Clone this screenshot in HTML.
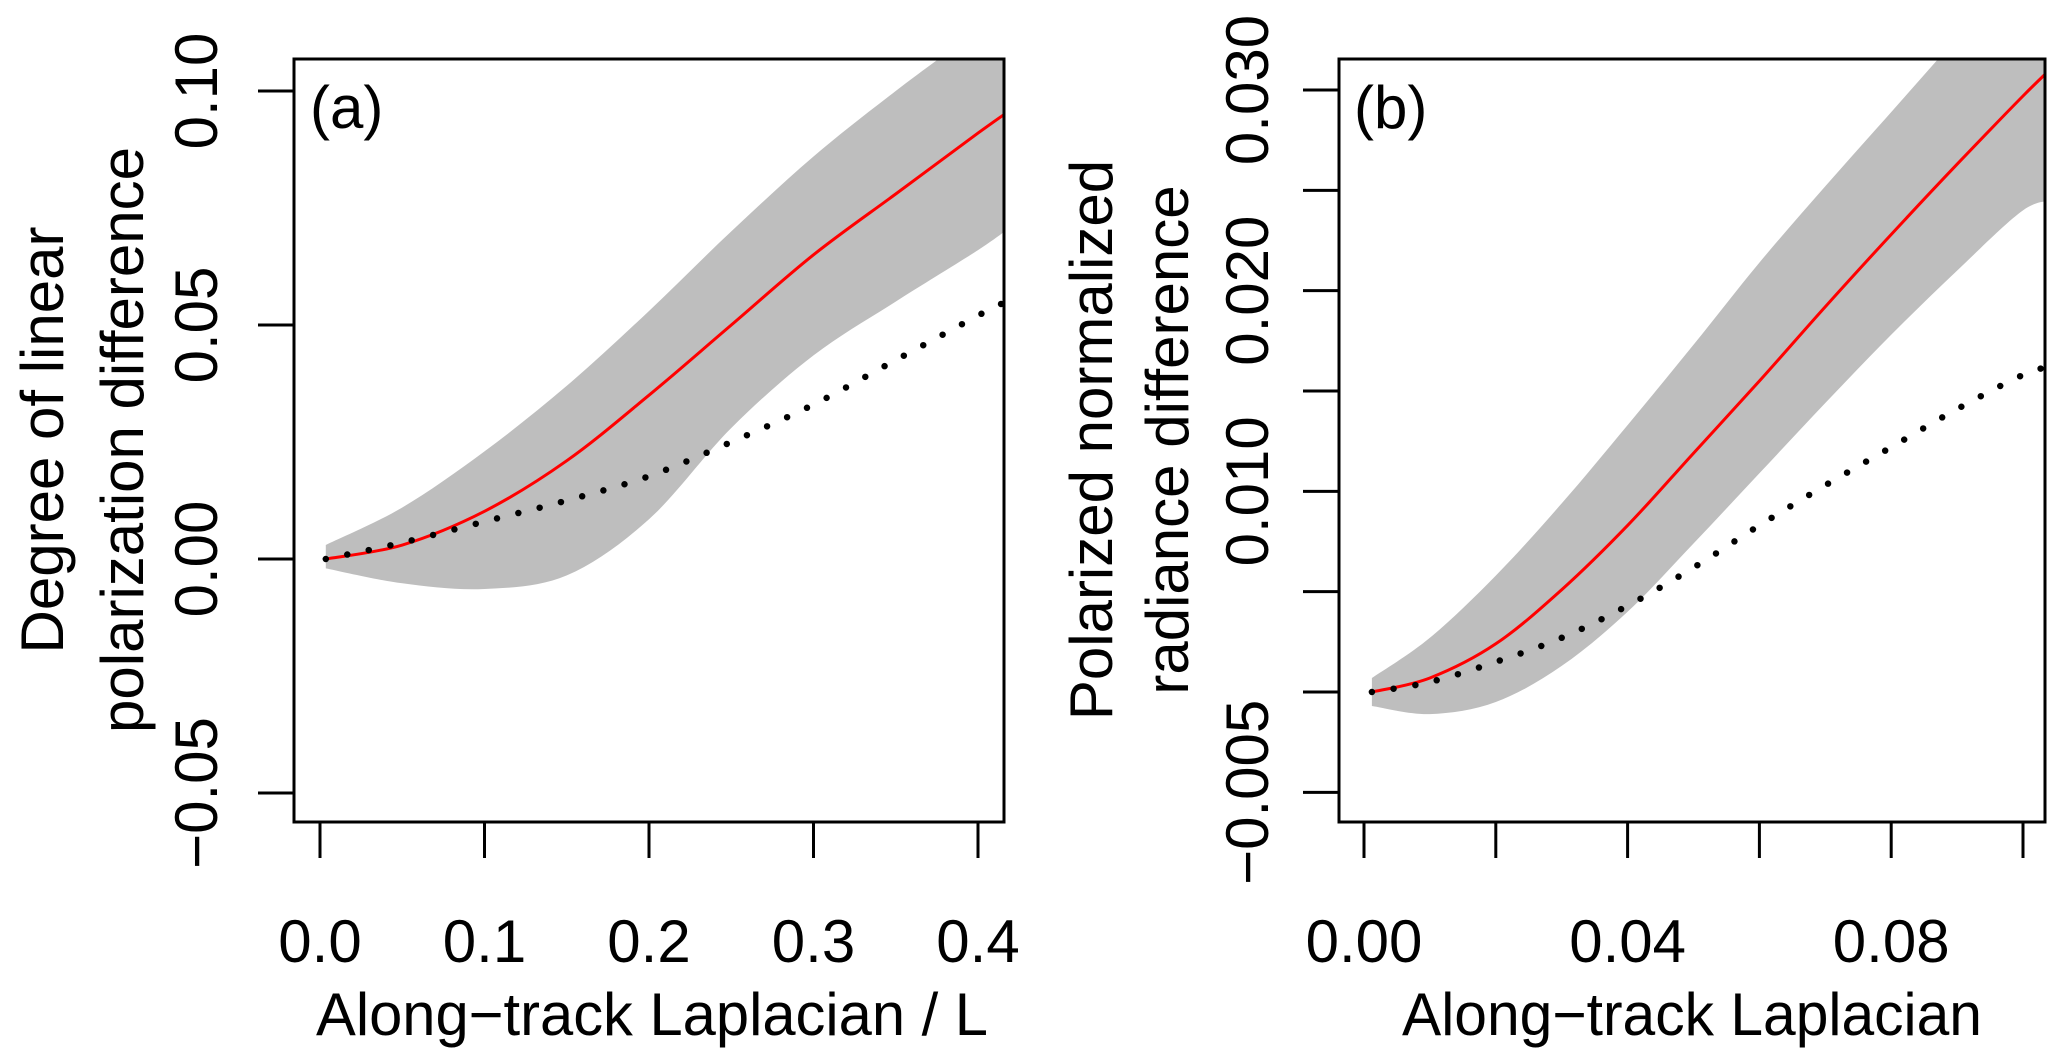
<!DOCTYPE html>
<html><head><meta charset="utf-8"><style>
html,body{margin:0;padding:0;background:#fff}
svg text{font-family:"Liberation Sans",Arial,sans-serif;fill:#000}
</style></head><body>
<svg id="chart" width="2067" height="1058" viewBox="0 0 2067 1058" xmlns="http://www.w3.org/2000/svg">
<defs>
<clipPath id="clipA"><rect x="294" y="59" width="710" height="763"/></clipPath>
<clipPath id="clipB"><rect x="1339" y="59" width="706" height="763"/></clipPath>
</defs>
<g id="panelA"></g>
<g id="panelB"></g>
</svg>
<script>
// Panel (a) data
const aX = [0.0035, 0.05, 0.1, 0.15, 0.2, 0.25, 0.3, 0.35, 0.4, 0.42];
const aRed = [0.0, 0.003, 0.0102, 0.021, 0.035, 0.050, 0.065, 0.078, 0.091, 0.096];
const aUpper = [0.003, 0.011, 0.023, 0.037, 0.053, 0.070, 0.086, 0.100, 0.113, 0.118];
const aLower = [-0.002, -0.0052, -0.0064, -0.0035, 0.0085, 0.028, 0.0435, 0.055, 0.066, 0.071];
const aDot = [0.0, 0.0035, 0.008, 0.0125, 0.0177, 0.025, 0.033, 0.0425, 0.052, 0.0555];
const aXTicks = [0.0, 0.1, 0.2, 0.3, 0.4];
const aXLabels = ["0.0", "0.1", "0.2", "0.3", "0.4"];
const aYTicks = [-0.05, 0.0, 0.05, 0.10];
const aYLabels = ["\u22120.05", "0.00", "0.05", "0.10"];
// Panel (b) data
const bX = [0.0012, 0.01, 0.02, 0.03, 0.04, 0.05, 0.06, 0.07, 0.08, 0.09, 0.10, 0.105];
const bRed = [0.0, 0.0007, 0.0024, 0.0051, 0.0083, 0.0119, 0.0155, 0.0192, 0.0228, 0.0263, 0.0297, 0.0313];
const bUpper = [0.0007, 0.0027, 0.0058, 0.0094, 0.0133, 0.0173, 0.0214, 0.0252, 0.0289, 0.0326, 0.0362, 0.038];
const bLower = [-0.0007, -0.0011, -0.0005, 0.0013, 0.0040, 0.0074, 0.0109, 0.0144, 0.0178, 0.0210, 0.0240, 0.0245];
const bDot = [0.0, 0.0005, 0.0015, 0.0027, 0.0043, 0.0062, 0.0083, 0.0103, 0.0122, 0.0141, 0.0158, 0.0163];
const bXTicks = [0.0, 0.02, 0.04, 0.06, 0.08, 0.10];
const bXLabels = ["0.00", "", "0.04", "", "0.08", ""];
const bYTicks = [-0.005, 0.0, 0.005, 0.010, 0.015, 0.020, 0.025, 0.030];
const bYLabels = ["\u22120.005", "", "", "0.010", "", "0.020", "", "0.030"];

const NS = "http://www.w3.org/2000/svg";
function mk(parent, tag, attrs, text) {
  const e = document.createElementNS(NS, tag);
  for (const k in attrs) e.setAttribute(k, attrs[k]);
  if (text !== undefined) e.textContent = text;
  parent.appendChild(e);
  return e;
}
function lin(d0, d1, r0, r1) { return v => r0 + (v - d0) * (r1 - r0) / (d1 - d0); }
function pts(xs, ys, sx, sy) { return xs.map((x, i) => [sx(x), sy(ys[i])]); }
function smooth(p, start) {
  let d = (start ? "M" : "L") + p[0][0].toFixed(1) + "," + p[0][1].toFixed(1);
  for (let i = 0; i < p.length - 1; i++) {
    const p0 = p[Math.max(0, i - 1)], p1 = p[i], p2 = p[i + 1], p3 = p[Math.min(p.length - 1, i + 2)];
    const c1 = [p1[0] + (p2[0] - p0[0]) / 6, p1[1] + (p2[1] - p0[1]) / 6];
    const c2 = [p2[0] - (p3[0] - p1[0]) / 6, p2[1] - (p3[1] - p1[1]) / 6];
    d += "C" + c1.map(v => v.toFixed(1)).join(",") + " " + c2.map(v => v.toFixed(1)).join(",") + " " + p2[0].toFixed(1) + "," + p2[1].toFixed(1);
  }
  return d;
}

function panel(g, cfg) {
  const sx = lin(cfg.xd[0], cfg.xd[1], cfg.xr[0], cfg.xr[1]);
  const sy = lin(cfg.yd[0], cfg.yd[1], cfg.yr[0], cfg.yr[1]);
  const plot = mk(g, "g", {"clip-path": "url(#" + cfg.clip + ")"});
  
  
  const up = pts(cfg.x, cfg.upper, sx, sy);
  const lo = pts(cfg.x, cfg.lower, sx, sy).reverse();
  const band = mk(plot, "path", {d: smooth(up, true) + smooth(lo, false) + "Z", fill: "#bebebe", stroke: "none"});
  
  
  const red = mk(plot, "path", {d: smooth(pts(cfg.x, cfg.red, sx, sy), true), fill: "none", stroke: "#ff0000", "stroke-width": 3});
  
  
  const dot = mk(plot, "path", {d: smooth(pts(cfg.x, cfg.dot, sx, sy), true), fill: "none", stroke: "#000", "stroke-width": 6.5, "stroke-linecap": "round", "stroke-dasharray": "0 22"});
  
  
  const box = mk(g, "rect", {x: cfg.box[0], y: cfg.box[1], width: cfg.box[2], height: cfg.box[3], fill: "none", stroke: "#000", "stroke-width": 3});
  
  
  const bottom = cfg.box[1] + cfg.box[3], left = cfg.box[0];
  const xa = mk(g, "g", {});
  
  
  cfg.xt.forEach((v, i) => {
    const t = mk(xa, "line", {x1: sx(v), x2: sx(v), y1: bottom, y2: bottom + 36, stroke: "#000", "stroke-width": 3});
    
    
    if (cfg.xl[i]) {
      const l = mk(xa, "text", {x: sx(v), y: 962, "text-anchor": "middle", "font-size": 60}, cfg.xl[i]);
      
      
    }
  });
  const ya = mk(g, "g", {});
  
  
  cfg.yt.forEach((v, i) => {
    const t = mk(ya, "line", {x1: left - 36, x2: left, y1: sy(v), y2: sy(v), stroke: "#000", "stroke-width": 3});
    
    
    if (cfg.yl[i]) {
      const l = mk(ya, "text", {x: 0, y: 0, "text-anchor": "middle", "font-size": 60, transform: "translate(" + cfg.ylx + "," + sy(v) + ") rotate(-90)"}, cfg.yl[i]);
      
      
    }
  });
  const xt = mk(g, "text", {x: cfg.xtitle[0], y: 1035, "text-anchor": "middle", "font-size": 60, textLength: cfg.xtitle[2], lengthAdjust: "spacingAndGlyphs"}, cfg.xtitle[1]);
  
  
  cfg.ytitle.forEach(l => {
    const t = mk(g, "text", {x: 0, y: 0, "text-anchor": "middle", "font-size": 60, transform: "translate(" + l[0] + ",440) rotate(-90)"}, l[1]);
    
    
  });
  const pl = mk(g, "text", {x: cfg.tag[0], y: 128, "font-size": 60}, cfg.tag[1]);
  
  
}

panel(document.getElementById("panelA"), {
  xd: [0, 0.4], xr: [320, 978], yd: [0, 0.10], yr: [559, 91], clip: "clipA",
  box: [294, 59, 710, 763],
  x: aX, red: aRed, upper: aUpper, lower: aLower, dot: aDot,
  xt: aXTicks, xl: aXLabels, yt: aYTicks, yl: aYLabels, ylx: 217,
  xtitle: [652, "Along\u2212track Laplacian / L", 672],
  ytitle: [[63, "Degree of linear"], [143, "polarization difference"]],
  tag: [310, "(a)"]
});
panel(document.getElementById("panelB"), {
  xd: [0, 0.10], xr: [1364, 2023], yd: [0, 0.030], yr: [692, 90], clip: "clipB",
  box: [1339, 59, 706, 763],
  x: bX, red: bRed, upper: bUpper, lower: bLower, dot: bDot,
  xt: bXTicks, xl: bXLabels, yt: bYTicks, yl: bYLabels, ylx: 1268,
  xtitle: [1692, "Along\u2212track Laplacian", 580],
  ytitle: [[1112, "Polarized normalized"], [1188, "radiance difference"]],
  tag: [1354, "(b)"]
});
</script>
</body></html>
